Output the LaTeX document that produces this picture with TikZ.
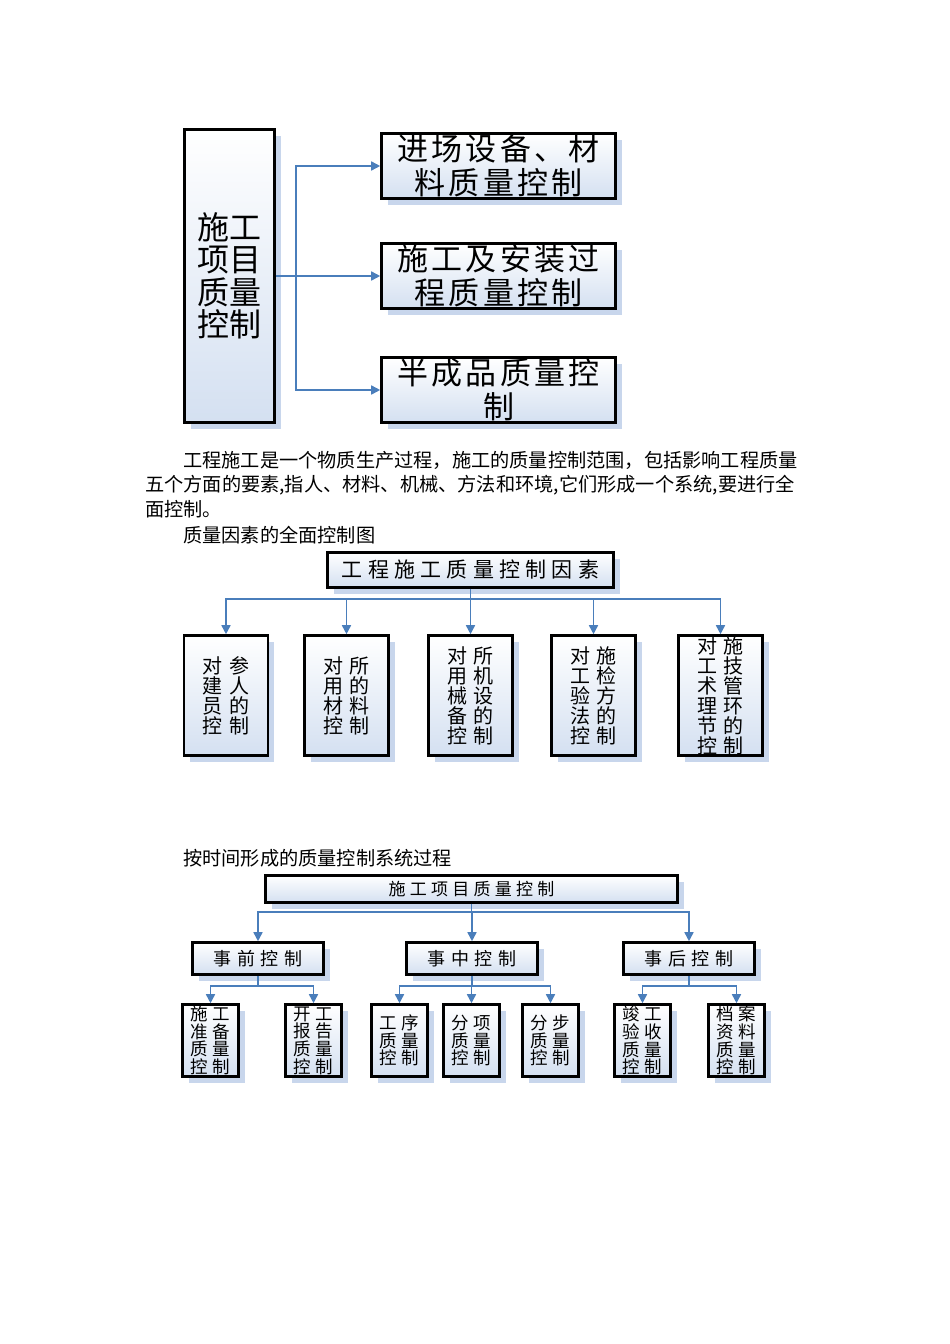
\documentclass[tikz,border=0pt]{standalone}
\usepackage{fontspec}
\setmainfont{Noto Sans CJK SC}
\newfontfamily\cjk{Noto Sans CJK SC}
\newfontfamily\cjkA[LetterSpace=10]{Noto Sans CJK SC}
\newfontfamily\cjkB[LetterSpace=25]{Noto Sans CJK SC}
\newfontfamily\cjkC[LetterSpace=33]{Noto Sans CJK SC}
\usepackage{tikz}
\usepackage{xcolor}
\usetikzlibrary{arrows.meta, shadows, positioning}

\definecolor{linkblue}{RGB}{74,126,187}
\definecolor{boxblue}{RGB}{212,224,241}
\definecolor{shadeblue}{RGB}{200,214,236}

\begin{document}
\begin{tikzpicture}[x=1pt, y=-1pt, >={Triangle[length=9pt, width=9pt]},
    box/.style={draw, line width=2.6pt, top color=white, bottom color=boxblue, inner sep=0pt, align=center,
        drop shadow={shadow xshift=6pt, shadow yshift=-6pt, fill=shadeblue, opacity=1}},
    fbox/.style={box, minimum width=84pt, minimum height=120pt, font=\fontsize{20}{20}\selectfont\cjkC},
    mbox/.style={box, minimum width=131pt, minimum height=32pt, font=\fontsize{18}{18}\selectfont\cjkC},
    sbox/.style={box, minimum width=56pt, minimum height=72pt, font=\fontsize{17.5}{17.6}\selectfont\cjkB},
    link/.style={draw=linkblue, line width=1.6pt, ->},
    para/.style={anchor=west, inner sep=0pt, font=\fontsize{19.2}{19}\selectfont}]
    \fill[white] (0, 0) rectangle (950, 1344);
    \useasboundingbox (0, 0) rectangle (950, 1344);

    % first chart
    \node[box, minimum width=90pt, minimum height=293pt, font=\fontsize{32}{32.5}\selectfont\cjk] (proj) at (229.5, 276) {施工\\项目\\质量\\控制};
    \node[box, minimum width=234pt, minimum height=65pt, font=\fontsize{31}{34}\selectfont\cjkA] (equip) at (498.5, 166) {进场设备、材\\料质量控制};
    \node[box, minimum width=234pt, minimum height=65pt, font=\fontsize{31}{34}\selectfont\cjkA] (install) at (498.5, 276) {施工及安装过\\程质量控制};
    \node[box, minimum width=234pt, minimum height=65pt, font=\fontsize{31}{34}\selectfont\cjkA] (semi) at (498.5, 390) {半成品质量控\\制};
    \draw[link] (proj.east) -- ++(20, 0) |- (equip);
    \draw[link] (proj.east) -- (install);
    \draw[link] (proj.east) -- ++(20, 0) |- (semi);

    % text
    \node[para] (p1) at (183, 460) {工程施工是一个物质生产过程，施工的质量控制范围，包括影响工程质量};
    \node[para] (p2) at (145, 485) {五个方面的要素,指人、材料、机械、方法和环境,它们形成一个系统,要进行全};
    \node[para] (p3) at (145, 509) {面控制。};
    \node[para] (p4) at (183, 535) {质量因素的全面控制图};

    % second chart
    \node[box, minimum width=286pt, minimum height=35pt, font=\fontsize{21}{21}\selectfont\cjkB] (factor) at (470.5, 570) {工程施工质量控制因素};
    \node[fbox] (staff) at (226, 695.5) {对参\\建人\\员的\\控制};
    \node[fbox] (material) at (346.5, 695.5) {对所\\用的\\材料\\控制};
    \node[fbox] (machine) at (470.5, 695.5) {对所\\用机\\械设\\备的\\控制};
    \node[fbox] (method) at (593.5, 695.5) {对施\\工检\\验方\\法的\\控制};
    \node[fbox] (technique) at (720.5, 695.5) {对施\\工技\\术管\\理环\\节的\\控制};
    \draw[link] (factor.south) -- ++(0, 10) -| (staff);
    \draw[link] (factor.south) -- ++(0, 10) -| (material);
    \draw[link] (factor.south) -- (machine);
    \draw[link] (factor.south) -- ++(0, 10) -| (method);
    \draw[link] (factor.south) -- ++(0, 10) -| (technique);

    % third chart
    \node[para] (p5) at (183, 858) {按时间形成的质量控制系统过程};
    \node[box, minimum width=412pt, minimum height=27pt, font=\fontsize{17}{17}\selectfont\cjkB] (whole) at (471.5, 889) {施工项目质量控制};
    \node[mbox] (before) at (258, 958.5) {事前控制};
    \node[mbox] (during) at (472, 958.5) {事中控制};
    \node[mbox] (after) at (689, 958.5) {事后控制};
    \draw[link] (whole.south) -- ++(0, 8) -| (before);
    \draw[link] (whole.south) -- ++(0, 8) -| (during);
    \draw[link] (whole.south) -- ++(0, 8) -| (after);

    \node[sbox] (prep) at (210.5, 1040.5) {施工\\准备\\质量\\控制};
    \node[sbox] (report) at (313.5, 1040.5) {开工\\报告\\质量\\控制};
    \node[sbox] (process) at (399.5, 1040.5) {工序\\质量\\控制};
    \node[sbox] (item) at (471.5, 1040.5) {分项\\质量\\控制};
    \node[sbox] (stage) at (550.5, 1040.5) {分步\\质量\\控制};
    \node[sbox] (accept) at (642.5, 1040.5) {竣工\\验收\\质量\\控制};
    \node[sbox] (archive) at (736.5, 1040.5) {档案\\资料\\质量\\控制};
    \draw[link] (before.south) -- ++(0, 10) -| (prep);
    \draw[link] (before.south) -- ++(0, 10) -| (report);
    \draw[link] (during.south) -- ++(0, 10) -| (process);
    \draw[link] (during.south) -- ++(0, 10) -| (item);
    \draw[link] (during.south) -- ++(0, 10) -| (stage);
    \draw[link] (after.south) -- ++(0, 10) -| (accept);
    \draw[link] (after.south) -- ++(0, 10) -| (archive);
\end{tikzpicture}
\end{document}
